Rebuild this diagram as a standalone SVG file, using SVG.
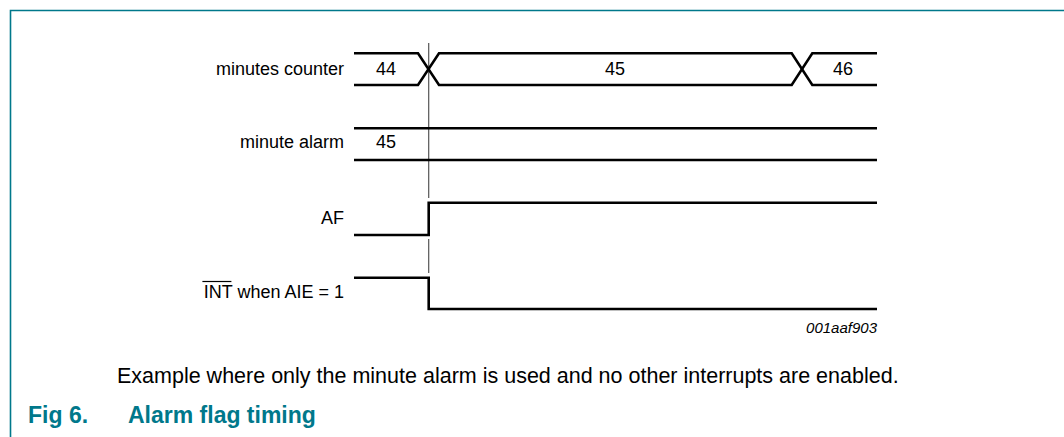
<svg xmlns="http://www.w3.org/2000/svg" width="1064" height="437" viewBox="0 0 1064 437">
<style>
.lbl{font-family:"Liberation Sans",Arial,sans-serif;font-size:18px;fill:#000}
.sig{fill:none;stroke:#000;stroke-width:2.6;stroke-linejoin:miter}
.ref{stroke:#555;stroke-width:1.2}
.cap{font-family:"Liberation Sans",Arial,sans-serif;font-size:21.5px;fill:#000}
.fig{font-family:"Liberation Sans",Arial,sans-serif;font-size:23px;font-weight:bold;fill:#00788b}
</style>
<rect width="1064" height="437" fill="#fff"/>
<path d="M10.5 437 V10.5 H1064" fill="none" stroke="#00788b" stroke-width="1.6"/>
<g id="connectors">
<line class="ref" x1="428.7" y1="43" x2="428.7" y2="198"/>
<line class="ref" x1="428.7" y1="239" x2="428.7" y2="273"/>
</g>
<g id="minutes-counter">
<text class="lbl" x="344" y="75" text-anchor="end">minutes counter</text>
<path class="sig" d="M354 53.3 H418 L439 85 H791.7 L812.3 53.3 H877"/>
<path class="sig" d="M354 85 H418 L439 53.3 H791.7 L812.3 85 H877"/>
<text class="lbl" x="376" y="75">44</text>
<text class="lbl" x="615" y="75" text-anchor="middle">45</text>
<text class="lbl" x="833" y="75">46</text>
</g>
<g id="minute-alarm">
<text class="lbl" x="344" y="148" text-anchor="end">minute alarm</text>
<path class="sig" d="M354 128.3 H877"/>
<path class="sig" d="M354 160 H877"/>
<text class="lbl" x="376" y="148">45</text>
</g>
<g id="af">
<text class="lbl" x="344" y="224" text-anchor="end">AF</text>
<path class="sig" d="M354 235 H428.7 V202.7 H877"/>
</g>
<g id="int">
<text class="lbl" x="344" y="298" text-anchor="end">INT when AIE = 1</text>
<line x1="202.4" y1="281.5" x2="231.4" y2="281.5" stroke="#000" stroke-width="1.2"/>
<path class="sig" d="M354 277.7 H428.7 V309 H877"/>
</g>
<text x="877" y="333" text-anchor="end" font-family="Liberation Sans,Arial,sans-serif" font-size="15" font-style="italic" fill="#000">001aaf903</text>
<text class="cap" x="117" y="383">Example where only the minute alarm is used and no other interrupts are enabled.</text>
<text class="fig" x="28" y="423">Fig 6.</text>
<text class="fig" x="128" y="423">Alarm flag timing</text>
</svg>
